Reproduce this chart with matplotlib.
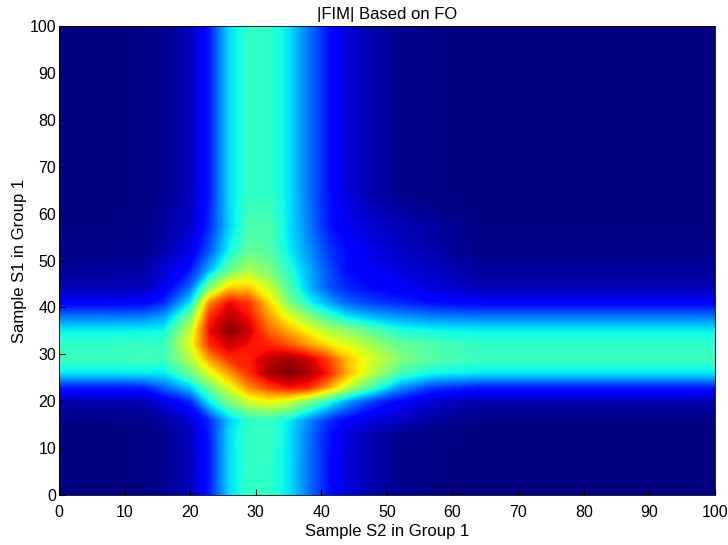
import numpy as np
import matplotlib
matplotlib.use("Agg")
import matplotlib.pyplot as plt

plt.rcParams['font.family'] = ['Liberation Sans', 'DejaVu Sans']

# grid knots (same for both axes), in sample units
knots = [0, 8, 13, 16, 20, 23, 26, 29, 32, 35, 38, 41, 44, 48, 52, 57, 64, 100]

# vertical band: value along S2 (x)
col_profile = [0.0, 0.0, 0.005, 0.015, 0.05, 0.15, 0.34, 0.41, 0.41, 0.35, 0.24,
               0.14, 0.08, 0.035, 0.015, 0.005, 0.0, 0.0]
# horizontal band: value along S1 (y)
row_profile = [0.0, 0.0, 0.002, 0.008, 0.04, 0.15, 0.35, 0.42, 0.41, 0.36, 0.24,
               0.11, 0.05, 0.025, 0.012, 0.004, 0.0, 0.0]

# crossing region, knots 16..57 (rows = S1 ascending, cols = S2 ascending)
core = [
    [0.03, 0.07, 0.17, 0.32, 0.40, 0.41, 0.36, 0.26, 0.17, 0.12, 0.08, 0.06, 0.03],
    [0.09, 0.16, 0.36, 0.50, 0.60, 0.64, 0.60, 0.50, 0.40, 0.28, 0.18, 0.12, 0.07],
    [0.22, 0.32, 0.48, 0.62, 0.76, 0.84, 0.89, 0.87, 0.74, 0.58, 0.42, 0.27, 0.18],
    [0.35, 0.47, 0.62, 0.74, 0.86, 0.96, 1.00, 0.96, 0.88, 0.72, 0.56, 0.43, 0.37],
    [0.42, 0.56, 0.74, 0.86, 0.88, 0.94, 0.97, 0.93, 0.84, 0.70, 0.60, 0.51, 0.45],
    [0.41, 0.62, 0.86, 0.93, 0.89, 0.87, 0.82, 0.74, 0.67, 0.62, 0.54, 0.47, 0.44],
    [0.37, 0.58, 0.90, 0.99, 0.93, 0.80, 0.72, 0.64, 0.57, 0.52, 0.45, 0.39, 0.37],
    [0.28, 0.48, 0.86, 0.95, 0.89, 0.74, 0.62, 0.52, 0.42, 0.35, 0.30, 0.27, 0.25],
    [0.16, 0.34, 0.76, 0.90, 0.85, 0.68, 0.50, 0.38, 0.29, 0.22, 0.18, 0.16, 0.13],
    [0.10, 0.23, 0.52, 0.70, 0.70, 0.60, 0.45, 0.31, 0.21, 0.16, 0.13, 0.11, 0.08],
    [0.07, 0.14, 0.30, 0.47, 0.55, 0.50, 0.40, 0.30, 0.20, 0.13, 0.10, 0.08, 0.06],
    [0.04, 0.09, 0.21, 0.37, 0.47, 0.45, 0.36, 0.27, 0.18, 0.13, 0.09, 0.06, 0.04],
    [0.03, 0.06, 0.17, 0.33, 0.44, 0.44, 0.35, 0.25, 0.15, 0.10, 0.07, 0.05, 0.03],
]

ticks = [0, 10, 20, 30, 40, 50, 60, 70, 80, 90, 100]

k = np.array(knots, dtype=float)
z = np.array(row_profile)[:, None] + np.array(col_profile)[None, :]
z[3:16, 3:16] = np.array(core)
X, Y = np.meshgrid(k, k)

fig = plt.figure(figsize=(7.28, 5.45), dpi=100)
ax = fig.add_axes([0.081, 0.092, 0.901, 0.860])
ax.contourf(X, Y, z, levels=np.linspace(0, 1, 257), cmap='jet', vmin=0, vmax=1)
ax.set_xlim(0, 100)
ax.set_ylim(0, 100)
ax.set_xticks(ticks)
ax.set_yticks(ticks)
ax.tick_params(direction='in', length=4, labelsize=11.5, colors='black')
ax.tick_params(axis='y', pad=2)
ax.tick_params(axis='x', pad=7)
for s in ax.spines.values():
    s.set_linewidth(0.6)
ax.set_title('|FIM| Based on FO', fontsize=12, pad=5)
ax.set_xlabel('Sample S2 in Group 1', fontsize=12, labelpad=3)
ax.set_ylabel('Sample S1 in Group 1', fontsize=12, labelpad=2)

fig.savefig('out.png', dpi=100)
